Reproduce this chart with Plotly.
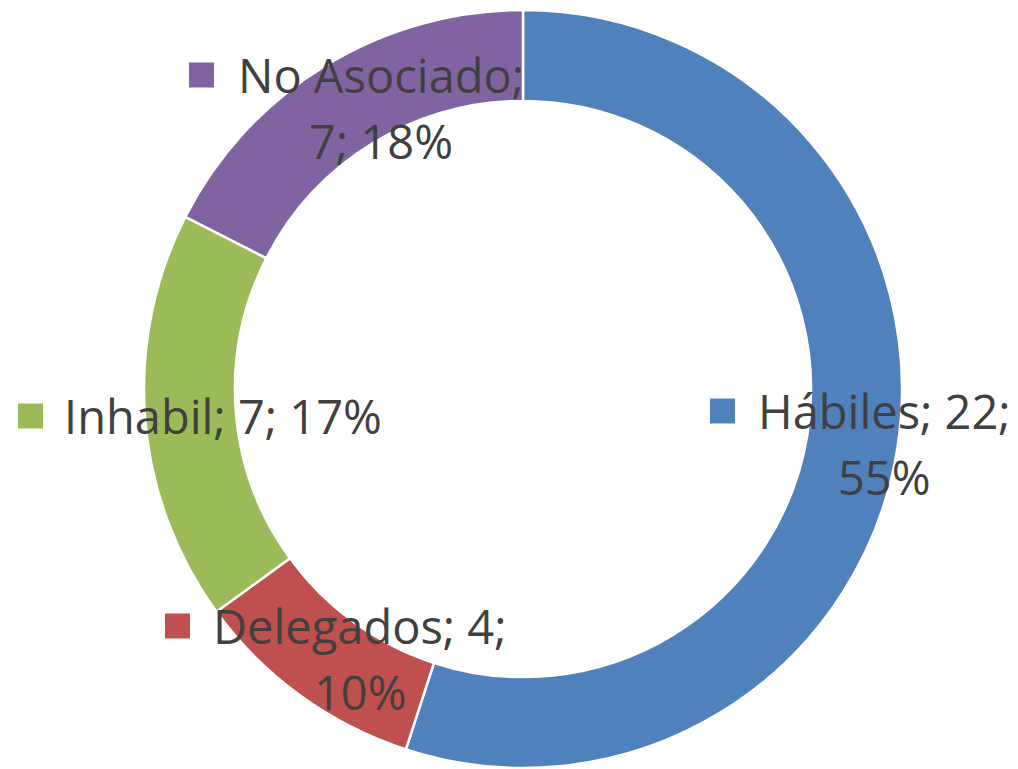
import plotly.graph_objects as go

categories = ["Hábiles", "Delegados", "Inhabil", "No Asociado"]
values = [22, 4, 7, 7]
pct_labels = ["55%", "10%", "17%", "18%"]
colors = ["#4F81BD", "#C0504D", "#9BBB59", "#8064A2"]

OFF = 8  # page body margin
W, H = 1018 - OFF, 769 - OFF
FONT = "Open Sans"
FSIZE = 47
TXT = "#404040"


def px(x):
    return (x - OFF) / W


def py(y):
    return 1 - (y - OFF) / H


fig = go.Figure(go.Pie(
    labels=categories, values=values, sort=False, direction="clockwise", rotation=0,
    hole=0.76, marker=dict(colors=colors, line=dict(color="white", width=2.5)),
    textinfo="none", hoverinfo="none", showlegend=False,
    domain=dict(x=[px(143), px(903)], y=[py(768), py(10)]),
))

# label layout: (text-center x, first-line center y, square left x, lines)
label_pos = [
    (884, 411, 710, [f"{categories[0]}; {values[0]};", pct_labels[0]]),
    (360, 626, 165, [f"{categories[1]}; {values[1]};", pct_labels[1]]),
    (223, 416, 18, [f"{categories[2]}; {values[2]}; {pct_labels[2]}"]),
    (381, 75, 189, [f"{categories[3]};", f"{values[3]}; {pct_labels[3]}"]),
]
LINE = 66
annotations = []
shapes = []
for i, (cx, cy, sx, lines) in enumerate(label_pos):
    for j, ln in enumerate(lines):
        y = cy + j * LINE
        annotations.append(dict(
            x=px(cx), y=py(y), xref="paper", yref="paper", text=ln, showarrow=False,
            xanchor="center", yanchor="middle",
            font=dict(family=FONT, size=FSIZE, color=TXT),
        ))
    sq = 25
    shapes.append(dict(
        type="rect", xref="paper", yref="paper",
        x0=px(sx), x1=px(sx + sq), y0=py(cy - sq / 2), y1=py(cy + sq / 2),
        fillcolor=colors[i], line=dict(width=0),
    ))

fig.update_layout(
    width=W, height=H, margin=dict(l=0, r=0, t=0, b=0),
    paper_bgcolor="white", plot_bgcolor="white",
    annotations=annotations, shapes=shapes,
)
fig.write_html("out.html")
